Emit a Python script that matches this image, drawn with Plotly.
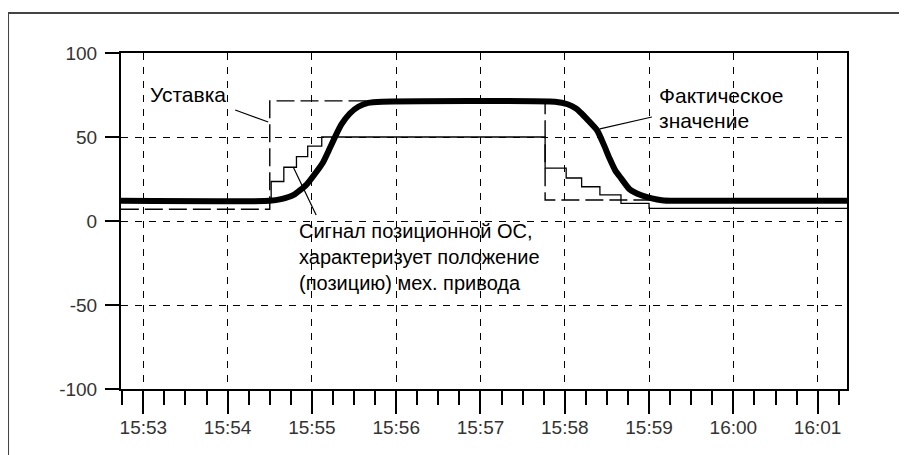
import plotly.graph_objects as go

DAY = "2024-01-01 "

# ---- data ----
setpoint_t = ["15:52:44", "15:54:30", "15:57:46", "16:01:21"]
setpoint_v = [7, 71.5, 12.5, 12.5]

feedback_t = ["15:52:44", "15:54:31", "15:54:40", "15:54:49", "15:54:57", "15:55:07",
              "15:57:46", "15:58:01", "15:58:12", "15:58:25", "15:58:40", "15:59:00", "16:01:21"]
feedback_v = [12, 23.5, 32, 38.3, 44.6, 50,
              31.5, 25.6, 20.4, 15.5, 10.5, 7.5, 7.5]

actual_t = ["15:52:44", "15:54:30", "15:54:38", "15:54:47", "15:54:56", "15:55:03", "15:55:08",
            "15:55:12", "15:55:17", "15:55:21", "15:55:27", "15:55:33", "15:55:40", "15:55:50",
            "15:57:53", "15:58:02", "15:58:08", "15:58:12", "15:58:16", "15:58:23", "15:58:28",
            "15:58:32", "15:58:36", "15:58:40", "15:58:46", "15:58:54", "15:59:02", "15:59:09",
            "15:59:18", "16:01:21"]
actual_v = [12, 12, 13, 15.5, 21.5, 29, 35,
            42, 51, 57.5, 64, 68, 70.3, 71,
            71, 69.5, 67, 64, 60.5, 54, 45,
            37, 30, 25.5, 19, 15.5, 13.5, 12.4,
            12, 12]

x_tick_labels = ["15:53", "15:54", "15:55", "15:56", "15:57", "15:58", "15:59", "16:00", "16:01"]
y_ticks = [-100, -50, 0, 50, 100]
y_tick_labels = ["-100", "-50", "0", "50", "100"]

label_setpoint = "Уставка"
label_actual = ["Фактическое", "значение"]
label_feedback = ["Сигнал позиционной ОС,", "характеризует положение", "(позицию) мех. привода"]


def ts(t):
    return DAY + t


fig = go.Figure()

fig.add_trace(go.Scatter(
    x=[ts(t) for t in setpoint_t], y=setpoint_v, mode="lines", line_shape="hv",
    line=dict(color="black", width=1.4, dash="18px,6px"), hoverinfo="skip"))
fig.add_trace(go.Scatter(
    x=[ts(t) for t in feedback_t], y=feedback_v, mode="lines", line_shape="hv",
    line=dict(color="black", width=1.3), hoverinfo="skip"))
fig.add_trace(go.Scatter(
    x=[ts(t) for t in actual_t], y=actual_v, mode="lines", line_shape="spline",
    line=dict(color="black", width=6, smoothing=0.5), hoverinfo="skip"))

TXT = dict(family="Liberation Sans, Arial, sans-serif", size=21, color="black")
TXT_BLOCK = dict(family="Liberation Sans, Arial, sans-serif", size=20, color="black")
ann = []
ann.append(dict(x=ts("15:53:03.6"), y=75.4, text=label_setpoint, xanchor="left", yanchor="middle",
                showarrow=False, font=TXT))
for txt, yv in zip(label_actual, [74.5, 59.6]):
    ann.append(dict(x=ts("15:59:05.5"), y=yv, text=txt, xanchor="left", yanchor="middle",
                    showarrow=False, font=TXT))
ann.append(dict(x=ts("15:54:49.5"), y=-21.7, text="<br>".join(label_feedback), xanchor="left",
                yanchor="middle", align="left", showarrow=False, font=TXT_BLOCK))

shapes = [
    # pointer lines
    dict(type="line", xref="x", yref="y", x0=ts("15:54:05.4"), y0=66.1, x1=ts("15:54:28.9"), y1=58.9,
         line=dict(color="black", width=1.2)),
    dict(type="line", xref="x", yref="y", x0=ts("15:59:02"), y0=61.9, x1=ts("15:58:25"), y1=54.8,
         line=dict(color="black", width=1.2)),
    dict(type="line", xref="x", yref="y", x0=ts("15:54:46.7"), y0=32.1, x1=ts("15:55:03"), y1=3.6,
         line=dict(color="black", width=1.2)),
    # outer frame
    dict(type="rect", xref="paper", yref="paper", x0=-0.1556, x1=1.2, y0=-0.3, y1=1.119,
         line=dict(color="#444", width=2), layer="below"),
]

# the page body has an 8px margin, so the figure is shifted by 8px right and down
fig.update_layout(
    width=899, height=447,
    margin=dict(l=113, r=60, t=45, b=66),
    paper_bgcolor="white", plot_bgcolor="white",
    showlegend=False,
    annotations=ann, shapes=shapes,
)

AX_FONT = dict(family="Liberation Sans, Arial, sans-serif", size=19, color="#333")

fig.update_xaxes(
    type="date",
    range=[ts("15:52:44.1"), ts("16:01:20.9")],
    tickvals=[ts(t + ":00") for t in x_tick_labels], ticktext=x_tick_labels,
    ticks="outside", ticklen=23, tickwidth=1.8, tickcolor="black",
    minor=dict(dtick=15000, ticks="outside", ticklen=14, tickwidth=1.5, tickcolor="black", showgrid=False),
    showgrid=True, gridcolor="black", gridwidth=1, griddash="7px,7px",
    showline=True, linecolor="black", linewidth=2, mirror=True,
    zeroline=False, tickfont=AX_FONT, ticklabelstandoff=-3,
)
fig.update_yaxes(
    range=[-100, 100], tickvals=y_ticks, ticktext=y_tick_labels,
    ticks="outside", ticklen=14, tickwidth=1.5, tickcolor="black",
    showgrid=True, gridcolor="black", gridwidth=1, griddash="7px,7px",
    showline=True, linecolor="black", linewidth=2, mirror=True,
    zeroline=False, tickfont=AX_FONT, ticklabelstandoff=4,
)

fig.write_html("out.html")
